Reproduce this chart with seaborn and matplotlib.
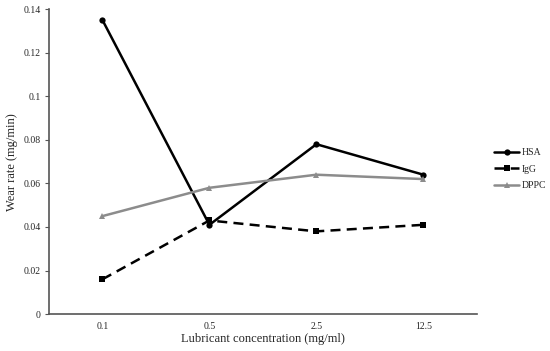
import numpy as np
import pandas as pd
import matplotlib
matplotlib.use("Agg")
import matplotlib.pyplot as plt
import seaborn as sns

# === Datos ===
concentraciones = ["0.1", "0.5", "2.5", "12.5"]
hsa = [0.135, 0.041, 0.078, 0.064]
igg = [0.016, 0.043, 0.038, 0.041]
dppc = [0.045, 0.058, 0.064, 0.062]
series = ["HSA", "IgG", "DPPC"]

sns.set_style("white")
plt.rcParams["font.family"] = ["Liberation Serif", "DejaVu Serif"]

pos = np.arange(len(concentraciones))
df = pd.DataFrame({
    "pos": np.tile(pos, 3),
    "wear": hsa + igg + dppc,
    "serie": np.repeat(series, len(concentraciones)),
})

fig = plt.figure(figsize=(5.5, 3.51), dpi=100)
ax = fig.add_axes([0.089, 0.105, 0.778, 0.869])

estilos = {
    "HSA": dict(color="black", ls="-", marker="o", ms=4.5),
    "IgG": dict(color="black", ls=(0, (4, 2.5)), marker="s", ms=4.5),
    "DPPC": dict(color="#8c8c8c", ls="-", marker="^", ms=4.5),
}
for s in series:
    st = estilos[s]
    sns.lineplot(data=df[df["serie"] == s], x="pos", y="wear", ax=ax,
                 color=st["color"], linestyle=st["ls"], marker=st["marker"],
                 markersize=st["ms"], markeredgewidth=0, lw=1.8, label=s)

ax.set_xlim(-0.5, len(concentraciones) - 0.5)
ax.set_ylim(0, 0.14)
ax.set_yticks(np.arange(0, 0.141, 0.02))
ax.set_yticklabels(["0", "0.02", "0.04", "0.06", "0.08", "0.1", "0.12", "0.14"])
ax.set_xticks(pos)
ax.set_xticklabels(concentraciones)
ax.set_xticks(np.arange(-0.5, len(concentraciones)), minor=True)
ax.tick_params(axis="x", which="major", length=0, labelsize=7, pad=6)
ax.tick_params(axis="x", which="minor", length=3, direction="in", color="#555")
ax.tick_params(axis="y", length=3, direction="out", color="#555", labelsize=7,
               left=True, pad=3)

for lado in ["top", "right"]:
    ax.spines[lado].set_visible(False)
for lado in ["left", "bottom"]:
    ax.spines[lado].set_color("#555")
    ax.spines[lado].set_linewidth(1.2)

ax.set_xlabel("Lubricant concentration (mg/ml)", fontsize=9, labelpad=1)
ax.set_ylabel("Wear rate (mg/min)", fontsize=9, labelpad=4)

ax.legend(loc="center left", bbox_to_anchor=(1.02, 0.475), frameon=False,
          fontsize=7, handlelength=2.6, handletextpad=0.2, labelspacing=0.75)

fig.savefig("out.png", dpi=100)
